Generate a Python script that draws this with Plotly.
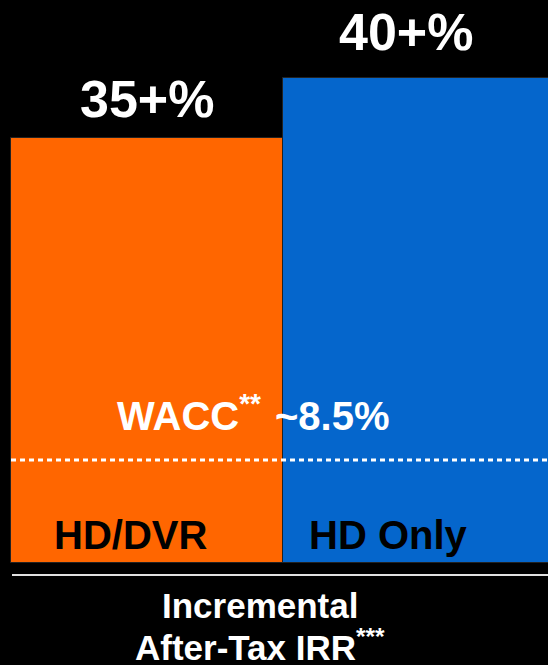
import plotly.graph_objects as go

categories = ["HD/DVR", "HD Only"]
irr_values = [35, 40]
value_labels = ["35+%", "40+%"]
bar_colors = ["#FF6600", "#0566CC"]
wacc_value = 8.5
wacc_label = "~8.5%"
axis_title_lines = ["Incremental", "After-Tax IRR<sup>***</sup>"]

W, H = 548, 665
BASE_PX = 563.0
PX_PER_UNIT = 12.13
BAR_PX = 272.0
LEFT_PX = 11.0

def py(p):
    return (BASE_PX - p) / PX_PER_UNIT

x0 = -0.5 - LEFT_PX / BAR_PX
x1 = x0 + W / BAR_PX
y_top = py(0)
y_bot = py(H)

FONT = "Liberation Sans, Arial, sans-serif"

fig = go.Figure()
fig.add_trace(go.Bar(
    x=categories, y=irr_values, width=1.0,
    marker=dict(color=bar_colors, line=dict(color="#222222", width=1)),
    hoverinfo="skip", showlegend=False,
))

ann = []
# value labels
xshifts = [0, -13]
yshifts = [8, 15]
for c, v, lab, xs, ys in zip(categories, irr_values, value_labels, xshifts, yshifts):
    ann.append(dict(x=c, y=v, yref="y", xref="x", text="<b>%s</b>" % lab,
                    showarrow=False, yanchor="bottom", xanchor="center",
                    xshift=xs, yshift=ys,
                    font=dict(family=FONT, size=52, color="white")))
# category labels inside bars
cshifts = [-17, -31]
for c, xs in zip(categories, cshifts):
    ann.append(dict(x=c, y=0, yref="y", xref="x", text="<b>%s</b>" % c,
                    showarrow=False, yanchor="bottom", xanchor="center",
                    xshift=xs, yshift=4,
                    font=dict(family=FONT, size=40, color="black")))
# WACC labels
ann.append(dict(x=categories[0], y=wacc_value, xref="x", yref="y",
                text="<b>WACC<sup>**</sup></b>", showarrow=False,
                xanchor="right", yanchor="bottom", xshift=136 - 20, yshift=20,
                font=dict(family=FONT, size=40, color="white")))
ann.append(dict(x=categories[1], y=wacc_value, xref="x", yref="y",
                text="<b>%s</b>" % wacc_label, showarrow=False,
                xanchor="left", yanchor="bottom", xshift=-136 - 10, yshift=20,
                font=dict(family=FONT, size=40, color="white")))
# bottom title
ann.append(dict(x=260 / W, y=py(605), xref="paper", yref="y",
                text="<b>%s</b>" % axis_title_lines[0], showarrow=False,
                xanchor="center", yanchor="middle",
                font=dict(family=FONT, size=35, color="white")))
ann.append(dict(x=260 / W, y=py(645), xref="paper", yref="y",
                text="<b>%s</b>" % axis_title_lines[1], showarrow=False,
                xanchor="center", yanchor="middle",
                font=dict(family=FONT, size=35, color="white")))

shapes = [
    dict(type="line", xref="x", yref="y", x0=x0 + LEFT_PX / BAR_PX, x1=x1,
         y0=wacc_value, y1=wacc_value,
         line=dict(color="white", width=3, dash="5px,4px")),
    dict(type="line", xref="x", yref="y", x0=x0 + 12 / BAR_PX, x1=x1,
         y0=py(575), y1=py(575),
         line=dict(color="#E0E0E0", width=2)),
]

fig.update_layout(
    width=W, height=H,
    margin=dict(l=0, r=0, t=0, b=0),
    paper_bgcolor="black", plot_bgcolor="black",
    bargap=0,
    xaxis=dict(range=[x0, x1], visible=False, fixedrange=True),
    yaxis=dict(range=[y_bot, y_top], visible=False, fixedrange=True),
    annotations=ann, shapes=shapes,
)

fig.write_html(
    "out.html",
    config={"displayModeBar": False},
    post_script="document.body.style.margin='0';document.body.style.background='black';",
)
